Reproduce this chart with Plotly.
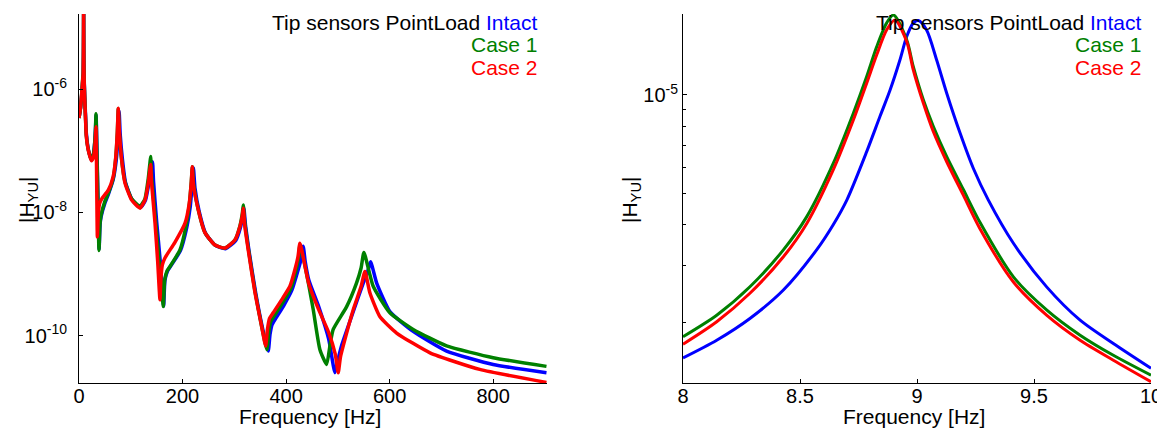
import plotly.graph_objects as go

# ---------------- data ----------------
# Zoomed band around the first mode (right panel), Hz / |H_YU|
zoom_freq_intact = [8.0, 8.144, 8.286, 8.429, 8.571, 8.642, 8.700, 8.785, 8.842, 8.885, 8.927, 8.956,
                    8.984, 9.006, 9.041, 9.084, 9.127, 9.184, 9.241, 9.305, 9.412, 9.554, 9.697, 9.839, 10.0]
zoom_mag_intact = [1.563e-6, 1.771e-6, 2.065e-6, 2.523e-6, 3.350e-6, 4.00e-6, 4.76e-6, 6.70e-6, 8.60e-6,
                   1.035e-5, 1.279e-5, 1.510e-5, 1.660e-5, 1.690e-5, 1.581e-5, 1.279e-5, 1.012e-5, 7.64e-6,
                   5.95e-6, 4.76e-6, 3.51e-6, 2.58e-6, 2.04e-6, 1.730e-6, 1.452e-6]

zoom_freq_case1 = [8.0, 8.144, 8.286, 8.429, 8.529, 8.642, 8.728, 8.785, 8.828, 8.870, 8.899, 8.956,
                   8.984, 9.027, 9.070, 9.127, 9.198, 9.269, 9.412, 9.555, 9.697, 9.839, 10.0]
zoom_mag_case1 = [1.816e-6, 2.113e-6, 2.582e-6, 3.350e-6, 4.236e-6, 6.166e-6, 8.79e-6, 1.138e-5, 1.406e-5,
                  1.660e-5, 1.758e-5, 1.476e-5, 1.222e-5, 9.66e-6, 8.00e-6, 6.47e-6, 5.13e-6, 4.07e-6,
                  2.77e-6, 2.19e-6, 1.835e-6, 1.592e-6, 1.383e-6]

zoom_freq_case2 = [8.0, 8.144, 8.286, 8.429, 8.529, 8.642, 8.728, 8.785, 8.828, 8.870, 8.906, 8.956,
                   8.984, 9.027, 9.070, 9.127, 9.198, 9.269, 9.412, 9.555, 9.697, 9.839, 10.0]
zoom_mag_case2 = [1.722e-6, 2.018e-6, 2.466e-6, 3.19e-6, 4.036e-6, 5.888e-6, 8.375e-6, 1.086e-5, 1.327e-5,
                  1.581e-5, 1.698e-5, 1.457e-5, 1.194e-5, 9.44e-6, 7.71e-6, 6.24e-6, 4.93e-6, 3.89e-6,
                  2.67e-6, 2.11e-6, 1.77e-6, 1.538e-6, 1.321e-6]

# Full band (left panel): below and above the zoomed band
low_freq = [0.0, 3.0, 5.0, 6.5]
low_mag_intact = [3.39e-7, 5.0e-7, 7.6e-7, 1.1e-6]
low_mag_case1 = [3.39e-7, 5.0e-7, 7.9e-7, 1.25e-6]
low_mag_case2 = [3.39e-7, 5.0e-7, 7.9e-7, 1.2e-6]

high_freq_intact = [11, 12.5, 14, 17, 20, 24, 28, 30.5, 32, 33, 34.7, 36.7, 38.8, 40.7, 42.7, 50, 57, 66,
                    72, 75.5, 77.5, 79.5, 84, 90, 103, 119, 128.5, 135.5, 139.5, 142, 144, 150, 157, 161,
                    163.5, 166, 171, 176.5, 196, 208, 215, 219, 221, 224, 232, 245, 264, 283, 302.5, 312,
                    316.5, 318.5, 321.5, 328.5, 341.5, 354.5, 365.5, 369, 373, 380, 395, 411, 421, 428.5,
                    433, 437, 444, 463, 482.4, 494.3, 500, 507, 526.5, 549, 558, 563.2, 575, 600.5, 645.5,
                    710, 800, 903]
high_mag_intact = [7.9e-7, 4.0e-7, 2.0e-7, 1.17e-7, 8.9e-8, 7.1e-8, 8.9e-8, 1.41e-7, 2.4e-7, 3.8e-7,
                   1.0e-7, 1.58e-8, 2.5e-9, 6.3e-9, 8.5e-9, 1.41e-8, 2.0e-8, 3.39e-8,
                   7.1e-8, 1.78e-7, 4.37e-7, 1.9e-7, 7.1e-8, 3.02e-8, 1.58e-8, 1.2e-8, 1.58e-8, 3.16e-8,
                   5.0e-8, 6.6e-8, 3.16e-8, 7.1e-9, 1.58e-9, 5.6e-10,
                   3.02e-10, 7.9e-10, 1.12e-9, 1.32e-9, 2.4e-9, 5.6e-9, 1.26e-8, 3.16e-8, 5.25e-8, 2.5e-8,
                   1.05e-8, 4.47e-9, 2.88e-9, 2.57e-9, 3.47e-9, 5.75e-9,
                   8.9e-9, 1.17e-8, 6.3e-9, 2.34e-9, 4.8e-10, 1.32e-10, 5.6e-11, 1.05e-10, 1.51e-10,
                   1.9e-10, 3.02e-10, 5.4e-10, 1.0e-9, 1.66e-9,
                   2.82e-9, 1.58e-9, 7.9e-10, 2.95e-10, 8.7e-11, 2.5e-11, 4.0e-11, 6.8e-11, 2.04e-10,
                   7.1e-10, 1.12e-9, 1.58e-9, 7.1e-10, 2.45e-10, 1.17e-10,
                   5.6e-11, 3.39e-11, 2.5e-11]

high_freq_case1 = [11, 12.5, 14, 17, 20, 24, 28, 30.5, 32, 32.8, 34.5, 36.5, 38.6, 40.5, 42.5, 50, 57, 66,
                   71, 74, 75.9, 78, 82.4, 88.8, 101.8, 117.8, 127.4, 133.8, 137, 138.4, 140.5, 148, 155,
                   160, 162.8, 165.5, 170, 175.7, 195, 206, 213, 217, 219, 221.5, 230.4, 243.3, 262.6,
                   281.9, 301.2, 310.9, 315.5, 317.3, 320, 326.9, 339.9, 352.8, 363, 366.5, 370, 377, 393,
                   409, 418.5, 424, 427, 443.6, 452.5, 465.4, 478.3, 485, 491, 517, 536, 545, 550.3,
                   568.3, 600.5, 645.5, 710, 800, 903]
high_mag_case1 = [7.4e-7, 3.63e-7, 1.82e-7, 1.15e-7, 8.9e-8, 7.1e-8, 8.9e-8, 1.41e-7, 2.5e-7, 4.0e-7,
                  1.0e-7, 1.58e-8, 2.4e-9, 6.3e-9, 8.9e-9, 1.51e-8, 2.09e-8, 3.55e-8,
                  7.6e-8, 1.9e-7, 4.8e-7, 1.9e-7, 7.1e-8, 3.16e-8, 1.66e-8, 1.26e-8, 1.66e-8, 3.55e-8,
                  6.3e-8, 8.1e-8, 3.55e-8, 7.1e-9, 1.58e-9,
                  5.6e-10, 2.95e-10, 7.9e-10, 1.12e-9, 1.32e-9, 2.45e-9, 5.6e-9, 1.32e-8, 3.16e-8,
                  5.5e-8, 2.82e-8, 1.1e-8, 4.68e-9, 2.95e-9,
                  2.63e-9, 3.55e-9, 6.03e-9, 9.55e-9, 1.32e-8, 7.1e-9, 2.63e-9, 5.25e-10, 1.41e-10,
                  5.9e-11, 1.12e-10, 1.66e-10, 2.09e-10, 3.39e-10,
                  5.75e-10, 1.07e-9, 1.82e-9, 3.02e-9, 6.76e-10, 2.63e-10, 5.9e-11, 3.39e-11, 7.1e-11,
                  1.26e-10, 2.95e-10, 7.1e-10, 1.26e-9, 2.24e-9,
                  6.3e-10, 2.34e-10, 1.26e-10, 6.8e-11, 4.37e-11, 3.16e-11]

high_freq_case2 = [11, 12.5, 14, 17, 20, 24, 28, 30.5, 32, 32.8, 33.8, 35.5, 37.5, 40, 44, 56.6, 66, 71,
                   74, 75.9, 78, 82.4, 88.8, 101.8, 117.8, 127.4, 133.8, 137, 138.4, 140, 146.8, 152,
                   156.4, 158, 161, 166, 185, 205, 213, 217, 218.8, 221, 230.4, 243.3, 262.6, 281.9,
                   301.2, 310.9, 315.5, 317.3, 320, 326.9, 339.9, 352.8, 360.5, 364, 368, 375, 391.4,
                   407.4, 417, 423, 426.8, 443.6, 463, 482.4, 495, 500.7, 505, 510.4, 529.7, 545, 552.3,
                   562, 581, 613.5, 678, 774, 903]
high_mag_case2 = [7.08e-7, 3.55e-7, 1.78e-7, 1.12e-7, 8.7e-8, 6.9e-8, 7.9e-8, 1.12e-7, 1.78e-7, 2.45e-7,
                  6.3e-8, 4.0e-9, 1.0e-8, 1.41e-8, 1.66e-8, 2.29e-8, 3.8e-8, 7.9e-8,
                  2.0e-7, 4.9e-7, 2.0e-7, 7.1e-8, 3.0e-8, 1.58e-8, 1.17e-8, 1.58e-8, 3.0e-8, 5.0e-8,
                  6.0e-8, 3.16e-8, 6.76e-9, 1.58e-9,
                  3.8e-10, 7.9e-10, 1.41e-9, 1.82e-9, 3.24e-9, 6.76e-9, 1.41e-8, 3.16e-8, 5.5e-8,
                  2.82e-8, 1.1e-8, 4.68e-9, 2.95e-9, 2.63e-9,
                  3.55e-9, 5.89e-9, 8.9e-9, 1.17e-8, 6.3e-9, 2.45e-9, 5.0e-10, 1.41e-10, 6.8e-11,
                  1.26e-10, 1.9e-10, 2.34e-10, 3.8e-10,
                  6.3e-10, 1.17e-9, 1.9e-9, 3.16e-9, 7.1e-10, 2.63e-10, 1.12e-10, 5.0e-11, 2.5e-11,
                  4.47e-11, 6.8e-11, 2.63e-10, 6.3e-10, 1.1e-9,
                  4.9e-10, 2.04e-10, 1.1e-10, 5.25e-11, 2.82e-11, 1.74e-11]

series_names = ["Intact", "Case 1", "Case 2"]
series_colors = ["#0000ff", "#008000", "#ff0000"]

left_x_ticks = [0, 200, 400, 600, 800]
left_y_ticks = [1e-10, 1e-8, 1e-6]
left_y_ticklabels = ["10<sup>-10</sup>", "10<sup>-8</sup>", "10<sup>-6</sup>"]
right_x_ticks = [8, 8.5, 9, 9.5, 10]
right_x_ticklabels = ["8", "8.5", "9", "9.5", "10"]
right_y_ticks = [1e-5]
right_y_ticklabels = ["10<sup>-5</sup>"]
right_y_minor = [2e-6, 3e-6, 4e-6, 5e-6, 6e-6, 7e-6, 8e-6, 9e-6]

# ---------------- figure ----------------
# The page body has an 8 px margin, so window-pixel positions are shifted by 8 px;
# the figure is sized to end exactly at the window's right/bottom edge.
PAGE_W, PAGE_H, BODY = 1165, 430, 8
W, H = PAGE_W - BODY, PAGE_H - BODY
FONT = "Liberation Sans, Arial, Helvetica, sans-serif"


def fx(p):
    return (p - BODY) / W


def fy(p):
    return 1 - (p - BODY) / H


left_series = [
    (low_freq + zoom_freq_intact + high_freq_intact, low_mag_intact + zoom_mag_intact + high_mag_intact),
    (low_freq + zoom_freq_case1 + high_freq_case1, low_mag_case1 + zoom_mag_case1 + high_mag_case1),
    (low_freq + zoom_freq_case2 + high_freq_case2, low_mag_case2 + zoom_mag_case2 + high_mag_case2),
]
right_series = [
    (zoom_freq_intact, zoom_mag_intact),
    (zoom_freq_case1, zoom_mag_case1),
    (zoom_freq_case2, zoom_mag_case2),
]

fig = go.Figure()
for (xs, ys), name, col in zip(left_series, series_names, series_colors):
    fig.add_trace(go.Scatter(x=xs, y=ys, mode="lines", name=name, showlegend=False,
                             line=dict(color=col, width=3.5, shape="spline", smoothing=0.5),
                             xaxis="x", yaxis="y"))
for (xs, ys), name, col in zip(right_series, series_names, series_colors):
    fig.add_trace(go.Scatter(x=xs, y=ys, mode="lines", name=name, showlegend=False,
                             line=dict(color=col, width=3, shape="spline", smoothing=0.8),
                             xaxis="x2", yaxis="y2"))

axis_common = dict(showline=True, linecolor="black", linewidth=1, ticks="inside", ticklen=4,
                   tickcolor="black", tickwidth=1, showgrid=False, zeroline=False, mirror=False,
                   automargin=False,
                   tickfont=dict(family=FONT, size=20, color="black"))

ydom = [fy(383), fy(14)]
fig.update_layout(
    width=W, height=H,
    margin=dict(l=0, r=0, t=0, b=0),
    paper_bgcolor="white", plot_bgcolor="white",
    xaxis=dict(domain=[fx(79), fx(547)], range=[0, 904], anchor="y",
               tickmode="array", tickvals=left_x_ticks, ticklabelstandoff=-5, **axis_common),
    yaxis=dict(domain=ydom, type="log", range=[-10.77, -4.78], anchor="x",
               tickmode="array", tickvals=left_y_ticks, ticktext=left_y_ticklabels,
               ticklabelstandoff=7, **axis_common),
    xaxis2=dict(domain=[fx(683), fx(1151)], range=[8, 10], anchor="y2",
                tickmode="array", tickvals=right_x_ticks, ticktext=right_x_ticklabels,
                ticklabelstandoff=-5, **axis_common),
    yaxis2=dict(domain=ydom, type="log", range=[-5.883, -4.752], anchor="x2",
                tickmode="array", tickvals=right_y_ticks, ticktext=right_y_ticklabels,
                ticklabelstandoff=0,
                minor=dict(tickmode="array", tickvals=right_y_minor, ticks="inside", ticklen=3,
                           tickcolor="black", showgrid=False),
                **axis_common),
)

ann = []
for right_edge in (540, 1144):
    ann.append(dict(text="Tip sensors PointLoad <span style='color:#0000ff'>Intact</span>",
                    x=fx(right_edge), y=fy(23), xref="paper", yref="paper",
                    xanchor="right", yanchor="middle", showarrow=False,
                    font=dict(family=FONT, size=21, color="black")))
    ann.append(dict(text="Case 1", x=fx(right_edge), y=fy(45), xref="paper", yref="paper",
                    xanchor="right", yanchor="middle", showarrow=False,
                    font=dict(family=FONT, size=21, color="#008000")))
    ann.append(dict(text="Case 2", x=fx(right_edge), y=fy(67), xref="paper", yref="paper",
                    xanchor="right", yanchor="middle", showarrow=False,
                    font=dict(family=FONT, size=21, color="#ff0000")))

for cx in (310, 914):
    ann.append(dict(text="Frequency [Hz]", x=fx(cx), y=fy(416), xref="paper", yref="paper",
                    xanchor="center", yanchor="middle", showarrow=False,
                    font=dict(family=FONT, size=21, color="black")))
for cx in (28, 631):
    ann.append(dict(text="|H<sub>YU</sub>|", x=fx(cx), y=fy(200), xref="paper", yref="paper",
                    xanchor="center", yanchor="middle", textangle=-90, showarrow=False,
                    font=dict(family=FONT, size=21, color="black")))
fig.update_layout(annotations=ann)

fig.write_html("out.html")
